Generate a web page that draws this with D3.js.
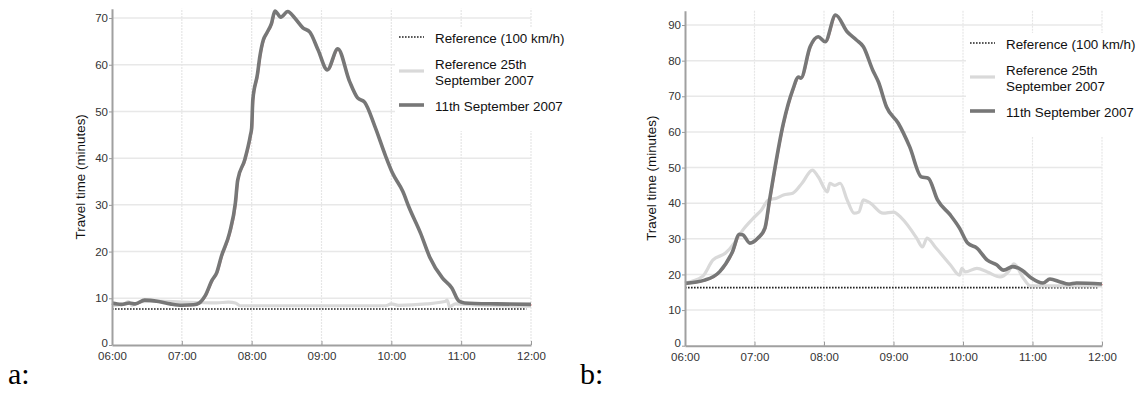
<!DOCTYPE html>
<html>
<head>
<meta charset="utf-8">
<script src="https://cdn.jsdelivr.net/npm/d3@7"></script>
<style>
  body { margin: 0; background: #fff; }
  svg { display: block; font-family: "Liberation Sans", Arial, sans-serif; }
  .tick text { fill: #333; font-size: 11.5px; }
</style>
</head>
<body>
<svg id="chart" width="1138" height="394"></svg>
<script>
// panel a: times (HH:MM) and travel times in minutes
const timesA11 = ["06:00","06:08","06:15","06:20","06:28","06:40","06:50","07:00","07:10","07:15","07:20","07:26","07:30","07:34","07:41","07:46","07:48","07:54","07:59","08:00","08:01","08:05","08:07","08:10","08:13","08:17","08:20","08:25","08:31","08:37","08:44","08:50","08:57","09:05","09:14","09:24","09:31","09:37","09:46","09:55","10:01","10:10","10:15","10:25","10:33","10:44","10:52","10:58","11:03","11:30","12:00"];
const valuesA11 = [9.0,8.7,9.0,8.8,9.6,9.3,8.8,8.5,8.6,9.0,10.5,13.9,15.5,19.0,24.0,30.4,35.3,39.6,45.0,46.5,52.5,58.0,61.7,65.3,66.8,68.8,71.5,70.2,71.4,70.0,67.9,67.0,63.2,58.9,63.4,56.5,52.9,52.0,46.7,40.5,36.8,32.8,29.6,24.0,18.8,14.3,12.2,9.4,9.0,8.8,8.7];
const timesA25 = ["06:00","06:10","06:14","06:17","06:25","06:40","07:00","07:30","07:40","07:46","07:50","09:55","10:00","10:06","10:30","10:46","10:48","10:50","10:55","11:10","12:00"];
const valuesA25 = [8.5,8.7,9.3,8.5,9.3,9.4,9.2,9.0,9.2,9.0,8.4,8.4,8.8,8.5,8.8,9.3,9.6,8.2,8.8,8.6,8.3];
const refTimesA = ["06:00","11:56"];
const refValuesA = [7.7,7.7];

// panel b
const timesB11 = ["06:00","06:17","06:30","06:41","06:47","06:50","06:56","07:03","07:09","07:13","07:25","07:33","07:38","07:40","07:48","07:55","08:01","08:10","08:20","08:28","08:34","08:42","08:47","08:54","09:04","09:14","09:24","09:30","09:38","09:49","09:57","10:04","10:12","10:21","10:29","10:35","10:43","10:51","10:59","11:09","11:15","11:24","11:31","11:38","12:00"];
const valuesB11 = [17.5,18.4,20.8,26.4,31.3,31.1,28.8,30.2,33.0,40.9,62.5,71.8,75.4,75.1,83.9,86.7,85.3,92.8,88.1,85.8,83.9,77.4,74.0,67.0,62.5,55.8,47.4,47.0,40.9,36.7,33.0,28.8,27.4,24.0,22.7,21.2,22.2,21.2,19.0,17.6,18.7,17.9,17.3,17.6,17.3];
const timesB25 = ["06:00","06:15","06:24","06:35","06:43","06:50","06:59","07:06","07:12","07:19","07:25","07:33","07:41","07:50","07:55","08:03","08:05","08:09","08:14","08:20","08:26","08:30","08:34","08:40","08:51","09:00","09:07","09:20","09:25","09:29","09:36","09:49","09:57","09:59","10:02","10:12","10:21","10:32","10:39","10:44","10:52","10:58","12:00"];
const valuesB25 = [17.6,19.4,24.0,26.0,29.0,32.5,35.8,38.1,40.9,41.4,42.3,42.8,45.6,49.3,47.4,43.2,45.6,45.0,45.6,40.9,37.2,37.5,40.9,40.0,37.2,37.5,35.8,30.2,27.7,30.2,27.7,22.7,19.8,21.7,20.7,21.7,20.7,19.3,20.7,23.0,19.0,16.8,16.8];
const refTimesB = ["06:00","11:56"];
const refValuesB = [16.3,16.3];

const legendLabels = ["Reference (100 km/h)", ["Reference 25th", "September 2007"], "11th September 2007"];

const parseTime = d3.timeParse("%H:%M");
const zip = (t, v) => t.map((s, i) => ({t: parseTime(s), v: v[i]}));

const svg = d3.select("#chart");

/**
 * Draws one panel of the figure
 */
function panel(opt) {
  const x = d3.scaleTime()
    .domain([parseTime("06:00"), parseTime("12:00")])
    .range([opt.left, opt.right]);
  const y = d3.scaleLinear()
    .domain([0, opt.yMax])
    .range([opt.bottom, opt.bottom - opt.pxPerUnit * opt.yMax]);

  const g = svg.append("g");

  // grid
  g.append("g").selectAll("line").data(d3.range(10, opt.yMax, 10))
    .enter().append("line")
    .attr("x1", opt.left).attr("x2", opt.right)
    .attr("y1", d => y(d)).attr("y2", d => y(d))
    .attr("stroke", "#e8e8e8").attr("stroke-width", 1.5);
  g.append("g").selectAll("line").data(x.ticks(d3.timeHour.every(1)).slice(1))
    .enter().append("line")
    .attr("x1", d => x(d)).attr("x2", d => x(d))
    .attr("y1", y(0)).attr("y2", y(opt.yMax))
    .attr("stroke", "#e6e6e6").attr("stroke-width", 1.2)
    .attr("stroke-dasharray", "2,1");

  // white legend box hides the grid behind it
  g.append("rect")
    .attr("x", opt.right - 136).attr("y", opt.legendTop - 10)
    .attr("width", 152).attr("height", 104)
    .attr("fill", "#fff");

  const line = d3.line().x(d => x(d.t)).y(d => y(d.v)).curve(d3.curveMonotoneX);

  g.append("path").datum(zip(opt.refT, opt.refV))
    .attr("d", line).attr("fill", "none")
    .attr("stroke", "#222").attr("stroke-width", 1.6).attr("stroke-dasharray", "1.6,1.4");
  g.append("path").datum(zip(opt.t25, opt.v25))
    .attr("d", line).attr("fill", "none")
    .attr("stroke", "#d9d9d9").attr("stroke-width", 3.2).attr("stroke-linejoin", "round");
  // faint red trace under the dark line
  g.append("path").datum(zip(opt.t11, opt.v11))
    .attr("d", line).attr("fill", "none")
    .attr("transform", "translate(1,0.6)")
    .attr("stroke", "#e77").attr("stroke-width", 1).attr("opacity", 0.7);
  g.append("path").datum(zip(opt.t11, opt.v11))
    .attr("d", line).attr("fill", "none")
    .attr("stroke", "#777").attr("stroke-width", 3.6).attr("stroke-linejoin", "round");

  // axes
  const xAxis = g.append("g")
    .attr("transform", "translate(0," + y(0) + ")")
    .call(d3.axisBottom(x).ticks(d3.timeHour.every(1)).tickFormat(d3.timeFormat("%H:%M"))
      .tickSizeInner(-4).tickSizeOuter(0).tickPadding(7));
  const yAxis = g.append("g")
    .attr("transform", "translate(" + opt.left + ",0)")
    .call(d3.axisLeft(y).tickValues(d3.range(0, opt.yMax, 10))
      .tickSizeInner(3).tickSizeOuter(0).tickPadding(1));
  yAxis.selectAll(".tick text").filter(d => d === 0).attr("dy", "0.1em");
  [xAxis, yAxis].forEach(a => {
    a.select(".domain").attr("stroke", "#a0a0a0").attr("stroke-width", 2);
    a.selectAll(".tick line").attr("stroke", "#999");
  });

  g.append("text")
    .attr("transform", "translate(" + opt.titleX + "," + (y(0) + y(opt.yMax)) / 2 + ") rotate(-90)")
    .attr("text-anchor", "middle")
    .style("font-size", "13.4px").attr("fill", "#111")
    .text("Travel time (minutes)");

  // legend
  const lg = g.append("g").style("font-size", "13.4px").attr("fill", "#111");
  const styles = [
    {stroke: "#222", w: 1.6, dash: "1.6,1.4"},
    {stroke: "#d9d9d9", w: 3.2, dash: null},
    {stroke: "#777", w: 3.6, dash: null}
  ];
  legendLabels.forEach((lab, i) => {
    const ly = opt.legendTop + i * 34;
    lg.append("line")
      .attr("x1", opt.right - 132).attr("x2", opt.right - 107)
      .attr("y1", ly).attr("y2", ly)
      .attr("stroke", styles[i].stroke).attr("stroke-width", styles[i].w)
      .attr("stroke-dasharray", styles[i].dash);
    if (Array.isArray(lab)) {
      lg.append("text").attr("x", opt.right - 96).attr("y", ly - 2).text(lab[0]);
      lg.append("text").attr("x", opt.right - 96).attr("y", ly + 14).text(lab[1]);
    } else {
      lg.append("text").attr("x", opt.right - 96).attr("y", ly + 6).text(lab);
    }
  });

  svg.append("text")
    .attr("x", opt.tagX).attr("y", 384)
    .style("font-family", "'Liberation Serif', 'Times New Roman', serif")
    .style("font-size", "30px").attr("fill", "#000")
    .text(opt.tag);
}

panel({left: 112, right: 531, bottom: 345, pxPerUnit: 4.671, yMax: 72,
  t11: timesA11, v11: valuesA11, t25: timesA25, v25: valuesA25, refT: refTimesA, refV: refValuesA,
  legendTop: 37, titleX: 85, tag: "a:", tagX: 8});
panel({left: 685, right: 1102, bottom: 345.7, pxPerUnit: 3.563, yMax: 94,
  t11: timesB11, v11: valuesB11, t25: timesB25, v25: valuesB25, refT: refTimesB, refV: refValuesB,
  legendTop: 43, titleX: 656, tag: "b:", tagX: 580});
</script>
</body>
</html>
